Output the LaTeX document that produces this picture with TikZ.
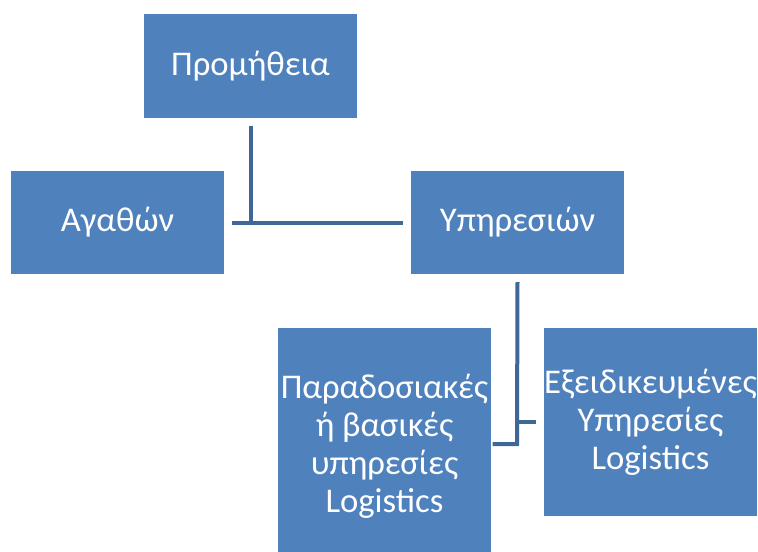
\documentclass[tikz,border=0pt]{standalone}
\usepackage{fontspec}
\setmainfont{Carlito}
\usetikzlibrary{positioning}
\definecolor{boxblue}{HTML}{4F81BD}
\definecolor{linkblue}{HTML}{3F6797}
\tikzset{
  unitbox/.style={draw=white,line width=0.8pt,fill=boxblue,text=white,
    inner sep=0pt,minimum width=161.25pt,minimum height=78.75pt,
    align=center,font=\fontsize{26}{28.5}\selectfont},
  link/.style={draw=linkblue,line width=3pt}
}
\begin{document}
\begin{tikzpicture}[x=0.75pt,y=-0.75pt]
\useasboundingbox (0,0) rectangle (758,551);
\clip (0,0) rectangle (758,551);
\fill[white] (0,0) rectangle (758,551);

%% ---------------- top level ----------------
\node[unitbox] (prom) at (250.5,66) {Προμήθεια};
\node[unitbox] (agath) at (117.5,222.5) {Αγαθών};
\node[unitbox] (yphr) at (517.5,222.5) {Υπηρεσιών};

%% ---------------- kinds of services ----------------
\node[unitbox,minimum height=178.5pt] (parad) at (384.5,446) {Παραδοσιακές\\ή βασικές\\υπηρεσίες\\Logistics};
\node[unitbox,minimum height=142.5pt] (exeid) at (650.5,422) {Εξειδικευμένες\\Υπηρεσίες\\Logistics};

%% ---------------- links ----------------
\coordinate (top) at ([yshift=-5]prom.south);
\coordinate (mid) at (top |- agath.east);
\draw[link] (top) -- (mid);
\draw[link] ([xshift=5]agath.east) -- ([xshift=-5]yphr.west);

\coordinate (down) at ([yshift=-5]yphr.south);
\coordinate (low) at (517,444);
\draw[link] (down) -- (low) -- (low -| parad.east);
\draw[link] (517,422) -- ([xshift=-5]exeid.west);
\end{tikzpicture}
\end{document}
